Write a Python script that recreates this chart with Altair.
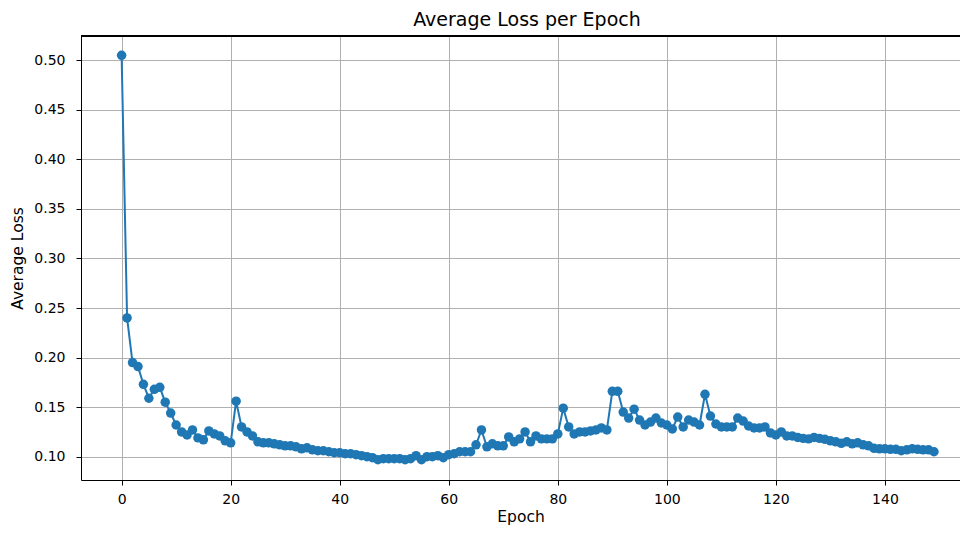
import altair as alt
import pandas as pd

epochs = list(range(150))
avg_loss = [
    0.505, 0.240, 0.195, 0.191, 0.173, 0.159, 0.168, 0.170, 0.155, 0.144,
    0.132, 0.125, 0.122, 0.127, 0.119, 0.117, 0.126, 0.123, 0.121, 0.116,
    0.114, 0.156, 0.130, 0.125, 0.121, 0.115, 0.114, 0.114, 0.113, 0.112,
    0.111, 0.111, 0.110, 0.108, 0.109, 0.107, 0.106, 0.106, 0.105, 0.104,
    0.104, 0.103, 0.103, 0.102, 0.101, 0.100, 0.099, 0.097, 0.098, 0.098,
    0.098, 0.098, 0.097, 0.098, 0.101, 0.097, 0.100, 0.100, 0.101, 0.099,
    0.102, 0.103, 0.105, 0.105, 0.105, 0.112, 0.127, 0.110, 0.113, 0.111,
    0.111, 0.120, 0.115, 0.118, 0.125, 0.115, 0.121, 0.118, 0.118, 0.118,
    0.123, 0.149, 0.130, 0.123, 0.125, 0.125, 0.126, 0.127, 0.129, 0.127,
    0.166, 0.166, 0.145, 0.139, 0.148, 0.137, 0.132, 0.135, 0.139, 0.134,
    0.132, 0.128, 0.140, 0.130, 0.137, 0.135, 0.132, 0.163, 0.141, 0.133,
    0.130, 0.130, 0.130, 0.139, 0.136, 0.131, 0.129, 0.129, 0.130, 0.124,
    0.122, 0.125, 0.121, 0.121, 0.1195, 0.1185, 0.118, 0.1195, 0.1185, 0.1175,
    0.116, 0.115, 0.1135, 0.115, 0.113, 0.114, 0.112, 0.111, 0.1085, 0.108,
    0.108, 0.1075, 0.1075, 0.106, 0.107, 0.108, 0.1075, 0.107, 0.107, 0.105,
]
x_ticks = [0, 20, 40, 60, 80, 100, 120, 140]
y_ticks = [0.10, 0.15, 0.20, 0.25, 0.30, 0.35, 0.40, 0.45, 0.50]

df = pd.DataFrame({"Epoch": epochs, "Average Loss": avg_loss})

FONT = "DejaVu Sans"
BLUE = "#1f77b4"
W, H = 879, 444

line = alt.Chart(df).mark_line(
    color=BLUE,
    strokeWidth=2,
    point=alt.OverlayMarkDef(filled=True, size=90, color=BLUE, opacity=1),
).encode(
    x=alt.X(
        "Epoch:Q",
        scale=alt.Scale(domain=[-7.45, 153.77], nice=False, zero=False),
        axis=alt.Axis(values=x_ticks, format="d", title="Epoch",
                      labelPadding=7, titlePadding=3),
    ),
    y=alt.Y(
        "Average Loss:Q",
        scale=alt.Scale(domain=[0.0765, 0.5245], nice=False, zero=False),
        axis=alt.Axis(values=y_ticks, format=".2f", title="Average Loss",
                      labelPadding=11, titlePadding=8),
    ),
)

# top spine of the axes frame
top_spine = alt.Chart(df).mark_rule(color="black", strokeWidth=1).encode(
    x=alt.value(0), x2=alt.value(W), y=alt.value(0)
)

chart = (
    alt.layer(line, top_spine)
    .properties(
        width=W,
        height=H,
        padding={"left": 73, "top": 28, "right": 0, "bottom": 46},
        autosize=alt.AutoSizeParams(type="none"),
        background="white",
        title=alt.TitleParams(
            "Average Loss per Epoch",
            font=FONT,
            fontSize=19,
            fontWeight="normal",
            color="black",
            anchor="middle",
            baseline="bottom",
            offset=-13,
            dx=6.5,
        ),
    )
    .configure_view(stroke=None)
    .configure_axis(
        labelFont=FONT,
        labelFontSize=14,
        labelColor="black",
        titleFont=FONT,
        titleFontSize=15.5,
        titleFontWeight="normal",
        titleColor="black",
        grid=True,
        gridColor="#b0b0b0",
        gridWidth=1,
        domain=True,
        domainColor="black",
        domainWidth=1,
        tickColor="black",
        tickSize=5,
        tickWidth=1,
    )
)

chart.save("out.html", embed_options={"renderer": "svg", "actions": False})
